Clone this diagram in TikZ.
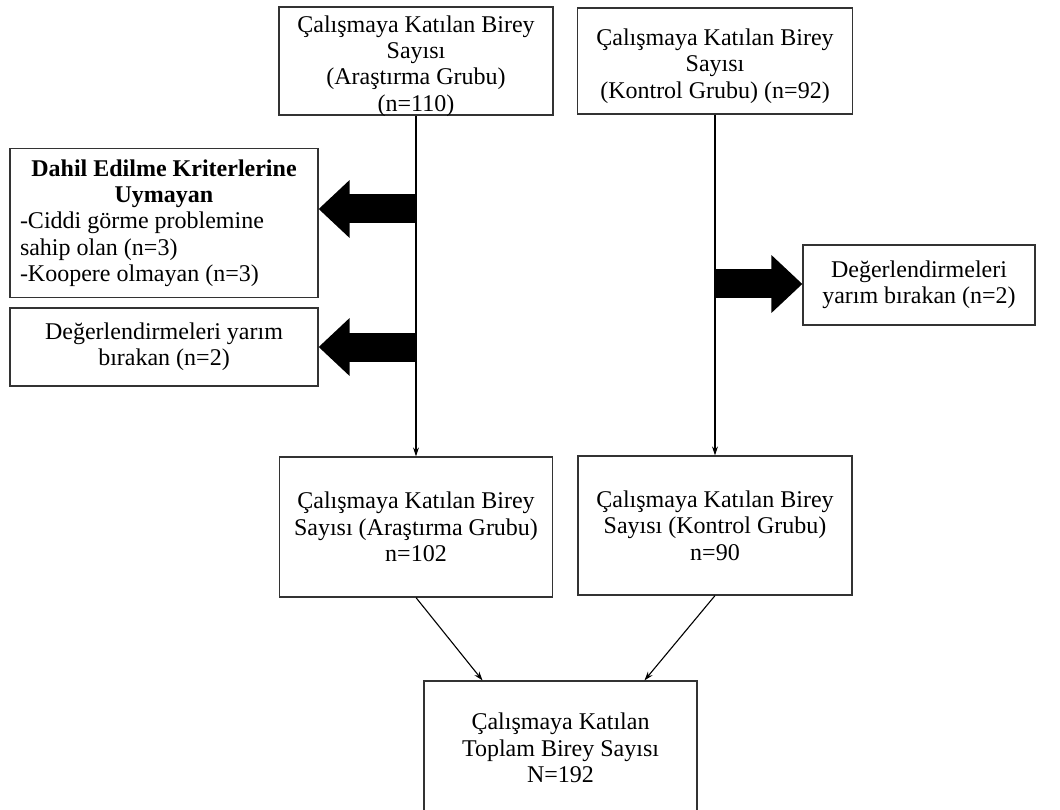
\documentclass[tikz,border=0pt]{standalone}
\usepackage{fontspec}
\setmainfont{Liberation Serif}
\usetikzlibrary{arrows.meta}
\begin{document}
\begin{tikzpicture}[x=1pt,y=-1pt,
  txt/.style={align=center, inner sep=0pt, font=\fontsize{24}{26.3}\selectfont},
  box/.style={txt, draw=black!80, line width=1.2pt},
  lowtext/.style={label={[txt, yshift=-5pt]center:#1}},
  link/.style={line width=1.1pt, -{Stealth[length=9pt,width=6pt]}},
  bigarrow/.style={line width=29pt, -{Triangle[length=31pt,width=56pt]}}]
\useasboundingbox (0,0) rectangle (1060,810);
\clip (0,0) rectangle (1060,810);

% top row: participants per group
\node[box, minimum width=274pt, minimum height=108pt,
  lowtext={Çalışmaya Katılan Birey\\Sayısı\\(Araştırma Grubu)\\(n=110)}] (a1) at (416,61) {};
\node[box, minimum width=275pt, minimum height=106pt,
  lowtext={Çalışmaya Katılan Birey\\Sayısı\\(Kontrol Grubu) (n=92)}] (k1) at (715,61) {};

% exclusions
\node[box, minimum width=308pt, minimum height=149pt] (l1) at (164,223)
  {\parbox{288pt}{{\centering\bfseries Dahil Edilme Kriterlerine\\Uymayan\par}
   \raggedright -Ciddi görme problemine\\sahip olan (n=3)\\-Koopere olmayan (n=3)}};
\node[box, minimum width=308pt, minimum height=78pt] (l2) at (164,347)
  {Değerlendirmeleri yarım\\bırakan (n=2)};
\node[box, minimum width=232pt, minimum height=80pt] (r1) at (919,285)
  {Değerlendirmeleri\\yarım bırakan (n=2)};

% remaining participants
\node[box, minimum width=273pt, minimum height=140pt] (a2) at (416,527)
  {Çalışmaya Katılan Birey\\Sayısı (Araştırma Grubu)\\n=102};
\node[box, minimum width=274pt, minimum height=139pt] (k2) at (715,525.5)
  {Çalışmaya Katılan Birey\\Sayısı (Kontrol Grubu)\\n=90};

% total
\node[box, minimum width=273pt, minimum height=134pt] (tot) at (560.5,748)
  {Çalışmaya Katılan\\Toplam Birey Sayısı\\N=192};

% main flow
\draw[link] (a1.south) -- (a2.north);
\draw[link] (k1.south) -- (k2.north);
\draw[link] (a2.south) -- ([xshift=-78pt]tot.north);
\draw[link] (k2.south) -- ([xshift=84pt]tot.north);

% drop-out arrows
\coordinate (t1) at (a1.south |- 0,209);
\coordinate (t2) at (a1.south |- 0,347);
\coordinate (t3) at (k1.south |- 0,284);
\draw[bigarrow] (t1) -- (l1.east |- t1);
\draw[bigarrow] (t2) -- (l2.east |- t2);
\draw[bigarrow] (t3) -- (r1.west |- t3);
\end{tikzpicture}
\end{document}
